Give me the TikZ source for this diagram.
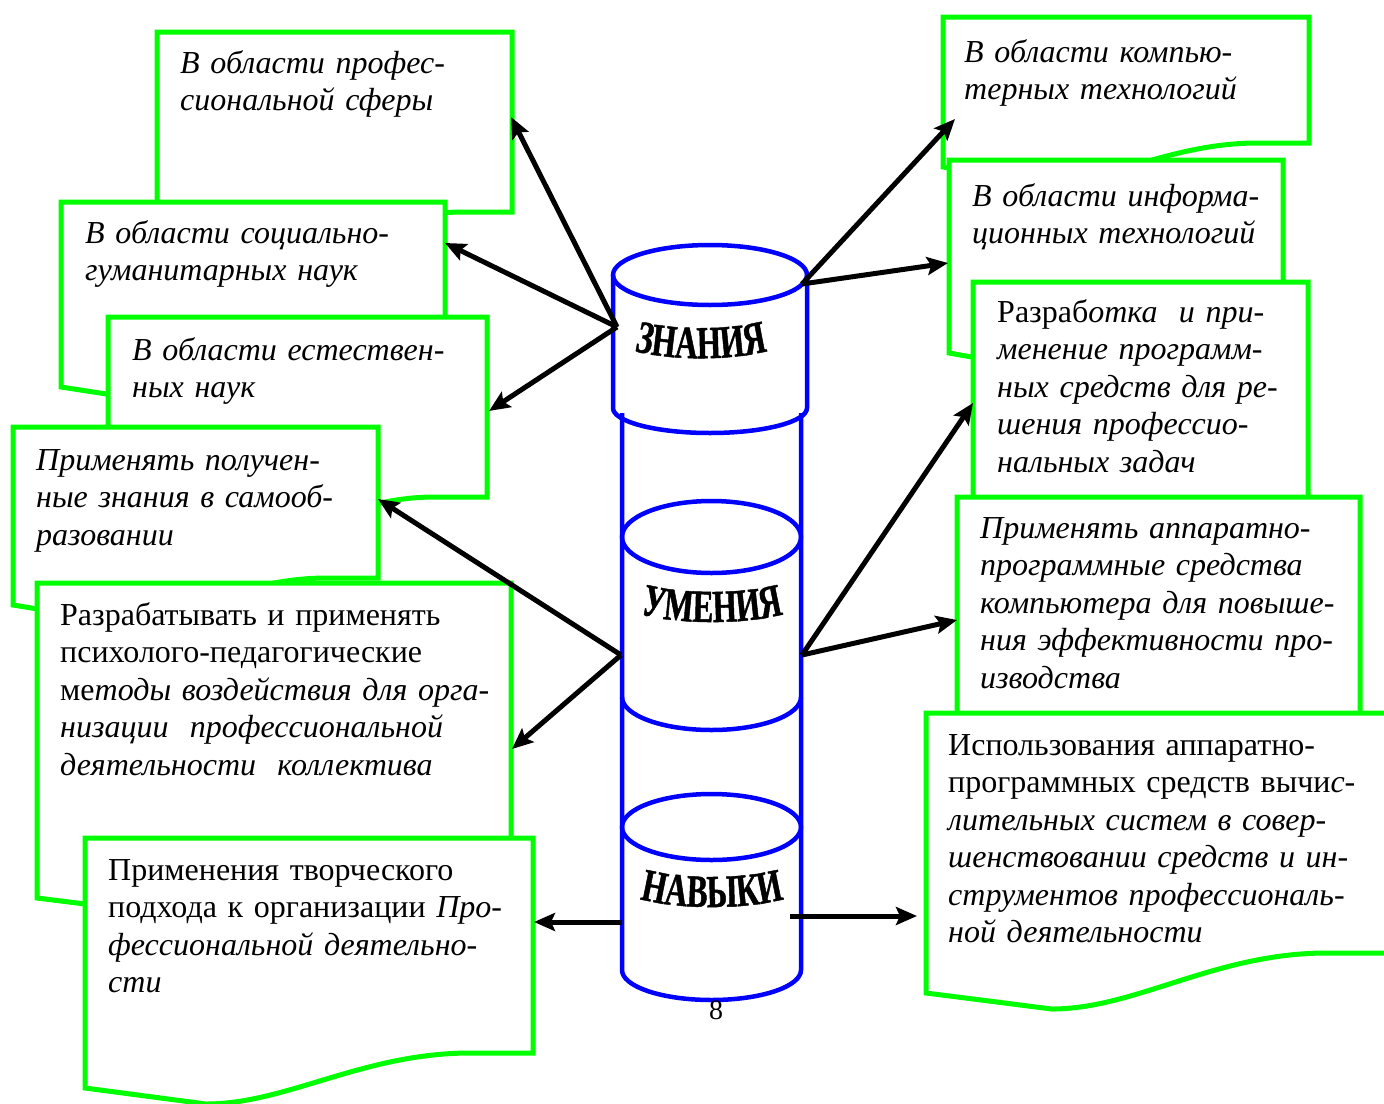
\documentclass[tikz,border=0pt]{standalone}
\usepackage{fontspec}
\setmainfont{Liberation Serif}
\newfontfamily\cylfnt[FakeStretch=0.68,FakeBold=1]{Liberation Serif}
\usetikzlibrary{arrows.meta,decorations.text}
\definecolor{bgreen}{RGB}{0,255,0}
\definecolor{bblue}{RGB}{0,0,255}
\tikzset{
 boxline/.style={draw=bgreen, line width=5pt, fill=white, line join=miter},
 cylline/.style={draw=bblue, line width=4.5pt},
 txt/.style={anchor=base west, inner sep=0pt, text width=560pt, align=left, font=\fontsize{32}{37.5}\selectfont},
 arr/.style={draw=black, line width=5pt, -{Stealth[length=21pt,width=18pt,inset=4pt]}},
 archtext/.style={decorate, decoration={text along path, text align=center, text={|\cylfnt\bfseries\fontsize{46}{50}\selectfont|#1}}},
}
\newcommand\docbox[5]{%
 \path[boxline] (#1,#2) -- (#3,#2) -- (#3,#5) -- ({#1+0.86*(#3-#1)},#5) .. controls ({#1+0.62*(#3-#1)},#5) and ({#1+0.45*(#3-#1)},{#4+16}) .. ({#1+0.27*(#3-#1)},{#4+16}) -- (#1,#4) -- cycle;}
\begin{document}
\begin{tikzpicture}[x=1pt,y=-1pt]
\useasboundingbox (0,0) rectangle (1384,1103);
% left column
\docbox{157}{32}{512}{250}{212}
\node[txt] (t1) at (180,73) {\itshape В области профес-\\сиональной сферы};
\docbox{61}{202}{445}{387}{350}
\node[txt] (t2) at (85,243) {\itshape В области социально-\\гуманитарных наук};
\docbox{108}{317}{487}{535}{497}
\node[txt] (t3) at (132,360) {\itshape В области естествен-\\ных наук};
\docbox{13}{427}{378}{605}{578}
\node[txt] (t4) at (36,470) {\itshape Применять получен-\\ные знания в самооб-\\разовании};
\docbox{37}{583}{511}{898}{860}
\node[txt] (t5) at (60,625) {Разрабатывать и применять\\психолого-педагогические\\ме\itshape тоды воздействия для орга-\\низации\ \ профессиональной\\деятельности\ \ коллектива};
\docbox{85}{838}{533}{1088}{1053}
\node[txt] (t6) at (108,880) {Применения творческого\\подхода к организации \textit{Про-}\\\itshape фессиональной деятельно-\\сти};
% right column
\docbox{943}{17}{1309}{167}{143}
\node[txt] (t7) at (964,62) {\itshape В области компью-\\терных технологий};
\docbox{949}{160}{1283}{353}{315}
\node[txt] (t8) at (972,206) {\itshape В области информа-\\ционных технологий};
\docbox{973}{282}{1308}{555}{520}
\node[txt] (t9) at (997,322) {Разраб\itshape отка\ \ и при-\\менение программ-\\ных средств для ре-\\шения профессио-\\нальных задач};
\docbox{957}{497}{1360}{775}{740}
\node[txt] (t10) at (980,538) {\itshape Применять аппаратно-\\программные средства\\компьютера для повыше-\\ния эффективности про-\\изводства};
\docbox{926}{713}{1392}{993}{953}
\node[txt] (t11) at (948,755) {Использования аппаратно-\\программных средств вычи\textit{с-}\\\itshape лительных систем в совер-\\шенствовании средств и ин-\\струментов профессиональ-\\ной деятельности};
% cylinders
\filldraw[cylline, fill=white] (613,275) -- (613,408) arc[start angle=180,end angle=0,x radius=97,y radius=25] -- (807,275);
\draw[cylline] (710,275) ellipse [x radius=97, y radius=30];
\draw[cylline] (622,413) -- (622,970) arc[start angle=180,end angle=0,x radius=89.5,y radius=30] -- (801,413);
\draw[cylline] (711.5,537) ellipse [x radius=89.5, y radius=36];
\draw[cylline] (622,697) arc[start angle=180,end angle=0,x radius=89.5,y radius=33];
\draw[cylline] (711.5,827) ellipse [x radius=89.5, y radius=33];
% arched labels
\path[archtext=ЗНАНИЯ] (631,350) .. controls (670,361) and (732,361) .. (771,350);
\path[archtext=УМЕНИЯ] (637,613) .. controls (676,625) and (748,625) .. (787,613);
\path[archtext=НАВЫКИ] (637,898) .. controls (676,910) and (748,910) .. (787,898);
\node[inner sep=0pt] (pg) at (716,1010) {\fontsize{28}{30}\selectfont 8};
% connector ends
\coordinate (zl) at (617,327);
\coordinate (zr) at (802,284);
\coordinate (ul) at (621,655);
\coordinate (ur) at (802,655);
\coordinate (nl) at (622,922);
\coordinate (nr) at (790,916);
\coordinate (a1) at (511,117);
\coordinate (a2) at (445,243);
\coordinate (a3) at (489,411);
\coordinate (a4) at (378,499);
\coordinate (a5) at (512,749);
\coordinate (a6) at (534,922);
\coordinate (b1) at (955,119);
\coordinate (b2) at (948,263);
\coordinate (b3) at (973,403);
\coordinate (b4) at (957,620);
\coordinate (b5) at (917,916);
% arrows
\draw[arr] (zl) -- (a1);
\draw[arr] (zl) -- (a2);
\draw[arr] (zl) -- (a3);
\draw[arr] (ul) -- (a4);
\draw[arr] (ul) -- (a5);
\draw[arr] (nl) -- (a6);
\draw[arr] (zr) -- (b1);
\draw[arr] (zr) -- (b2);
\draw[arr] (ur) -- (b3);
\draw[arr] (ur) -- (b4);
\draw[arr] (nr) -- (b5);
\end{tikzpicture}
\end{document}
